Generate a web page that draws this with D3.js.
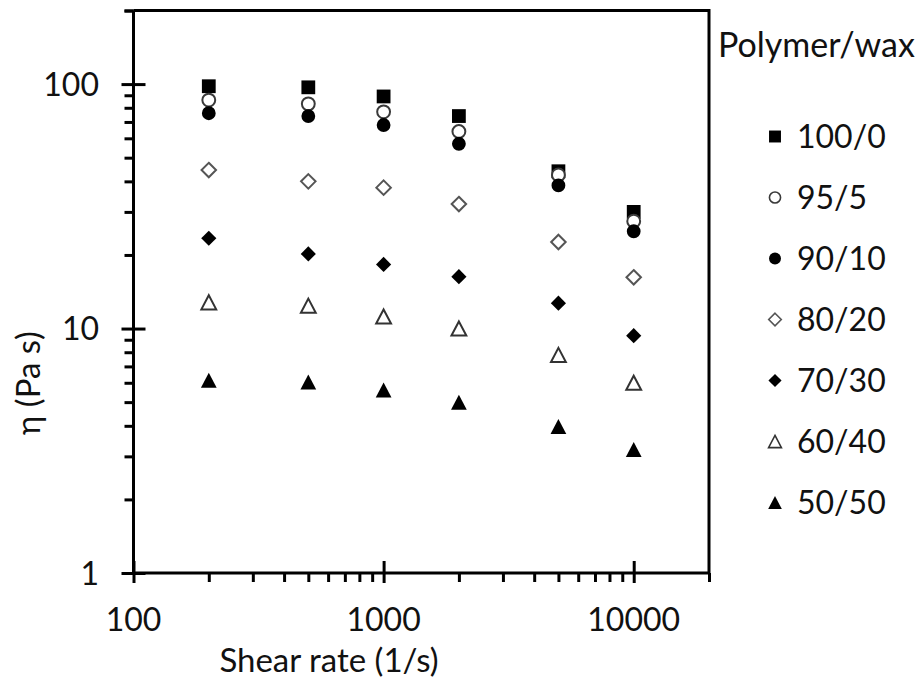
<!DOCTYPE html>
<html>
<head>
<meta charset="utf-8">
<script src="https://cdn.jsdelivr.net/npm/d3@7"></script>
<style>
  body { margin: 0; background: #fff; }
  svg text { font-family: Lato, "Open Sans", sans-serif; fill: #111; }
</style>
</head>
<body>
<div id="chart"></div>
<script>
// shear rates (1/s) and viscosities (Pa s)
const shear_rates = [200, 500, 1000, 2000, 5000, 10000];
const blend_labels = ['100/0', '95/5', '90/10', '80/20', '70/30', '60/40', '50/50'];
const eta_100_0 = [98, 97, 89, 74, 44, 30];
const eta_95_5 = [86, 83, 77, 64, 42.5, 27.5];
const eta_90_10 = [76, 74, 68, 57, 38.5, 25];
const eta_80_20 = [44.5, 40, 37.7, 32.3, 22.6, 16.2];
const eta_70_30 = [23.4, 20.2, 18.3, 16.3, 12.7, 9.35];
const eta_60_40 = [12.8, 12.4, 11.2, 10.0, 7.8, 6.0];
const eta_50_50 = [6.15, 6.05, 5.6, 5.0, 3.97, 3.2];
const x_ticks = [100, 1000, 10000];
const y_ticks = [1, 10, 100];

const series_values = [eta_100_0, eta_95_5, eta_90_10, eta_80_20, eta_70_30, eta_60_40, eta_50_50];

const width = 922, height = 685;
const svg = d3.select('#chart').append('svg')
  .attr('width', width)
  .attr('height', height);

const x = d3.scaleLog().domain([100, 20000]).range([133.5, 709]);
const y = d3.scaleLog().domain([1, 200]).range([573, 10.5]);

// marker shapes: excel-like square, circle, diamond, triangle
const diamond = {
  draw(ctx, size) {
    const r = Math.sqrt(size) / 2;
    ctx.moveTo(0, -r); ctx.lineTo(r, 0); ctx.lineTo(0, r); ctx.lineTo(-r, 0); ctx.closePath();
  }
};
const triangle = {
  draw(ctx, size) {
    const r = Math.sqrt(size) / 2;
    ctx.moveTo(0, -r); ctx.lineTo(r * 1.05, r); ctx.lineTo(-r * 1.05, r); ctx.closePath();
  }
};
const marker_styles = [
  {type: d3.symbolSquare, size: 190, fill: '#000', stroke: 'none'},
  {type: d3.symbolCircle, size: 130, fill: '#fff', stroke: '#3a3a3a'},
  {type: d3.symbolCircle, size: 150, fill: '#000', stroke: 'none'},
  {type: diamond, size: 210, fill: '#fff', stroke: '#555'},
  {type: diamond, size: 230, fill: '#000', stroke: 'none'},
  {type: triangle, size: 200, fill: '#fff', stroke: '#333'},
  {type: triangle, size: 225, fill: '#000', stroke: 'none'}
];

const stroke_w = 3;

// frame (top and right borders)
svg.append('path')
  .attr('d', d3.line()([[x.range()[0], y(200)], [x(20000), y(200)], [x(20000), y(1)]]))
  .attr('fill', 'none')
  .attr('stroke', '#000')
  .attr('stroke-width', stroke_w);

// log ticks 1..9 per decade, clipped to the domain
const log_ticks = (lo, hi) => d3.range(Math.log10(lo), Math.log10(hi))
  .flatMap(e => d3.range(1, 10).map(m => m * 10 ** e))
  .filter(v => v <= hi)
  .concat([hi]);

const y_axis = d3.axisLeft(y)
  .tickValues(log_ticks(1, 200))
  .tickSize(9)
  .tickFormat('');
const gy = svg.append('g').attr('transform', `translate(${x(100)},0)`).call(y_axis);
const gx_axis = d3.axisBottom(x)
  .tickValues(log_ticks(100, 20000))
  .tickSize(9)
  .tickFormat('');
const gx = svg.append('g').attr('transform', `translate(0,${y(1)})`).call(gx_axis);

[gx, gy].forEach(g => {
  g.select('.domain').attr('stroke', '#000').attr('stroke-width', stroke_w);
  g.selectAll('.tick line').attr('stroke', '#000').attr('stroke-width', stroke_w);
});
gx.select('.domain').attr('d', `M${x(100)},0H${x(20000)}`);
gy.select('.domain').attr('d', `M0,${y(1)}V${y(200)}`);

// major ticks cross the axis
gy.selectAll('.tick').filter(d => y_ticks.includes(d)).select('line')
  .attr('x1', 12).attr('x2', -12);
gx.selectAll('.tick').filter(d => x_ticks.includes(d)).select('line')
  .attr('y1', -12).attr('y2', 10);

// tick labels
svg.append('g').selectAll('text')
  .data(y_ticks)
  .join('text')
  .attr('x', 99)
  .attr('y', d => y(d))
  .attr('dy', '0.36em')
  .attr('text-anchor', 'end')
  .attr('font-size', 32)
  .text(d => d);

svg.append('g').selectAll('text')
  .data(x_ticks)
  .join('text')
  .attr('x', d => x(d))
  .attr('y', 631)
  .attr('text-anchor', 'middle')
  .attr('font-size', 32)
  .text(d => d);

// axis titles
svg.append('text')
  .attr('x', 329)
  .attr('y', 672)
  .attr('text-anchor', 'middle')
  .attr('font-size', 33)
  .text('Shear rate (1/s)');

svg.append('text')
  .attr('transform', 'translate(40,383) rotate(-90)')
  .attr('text-anchor', 'middle')
  .attr('font-size', 33)
  .text('η (Pa s)');

// data points
series_values.forEach((vals, i) => {
  const st = marker_styles[i];
  svg.append('g').selectAll('path')
    .data(vals.map((v, j) => ({x: shear_rates[j], y: v})))
    .join('path')
    .attr('transform', d => `translate(${x(d.x)},${y(d.y)})`)
    .attr('d', d3.symbol(st.type, st.size)())
    .attr('fill', st.fill)
    .attr('stroke', st.stroke)
    .attr('stroke-width', 2);
});

// legend
svg.append('text')
  .attr('x', 718)
  .attr('y', 57)
  .attr('font-size', 34)
  .text('Polymer/wax');

const legend = svg.append('g').selectAll('g')
  .data(blend_labels)
  .join('g')
  .attr('transform', (d, i) => `translate(775,${136.5 + 61 * i})`);

legend.append('path')
  .attr('d', (d, i) => d3.symbol(marker_styles[i].type, marker_styles[i].size * 0.75)())
  .attr('fill', (d, i) => marker_styles[i].fill)
  .attr('stroke', (d, i) => marker_styles[i].stroke)
  .attr('stroke-width', 1.6);

legend.append('text')
  .attr('x', 22)
  .attr('dy', '0.36em')
  .attr('font-size', 32)
  .text(d => d);
</script>
</body>
</html>
